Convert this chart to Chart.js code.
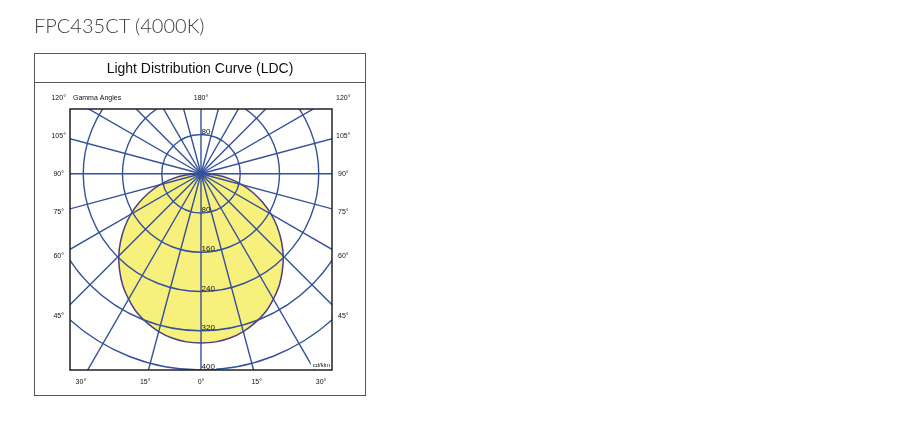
<!DOCTYPE html>
<html>
<head>
<meta charset="utf-8">
<title>FPC435CT LDC</title>
<script src="https://cdn.jsdelivr.net/npm/chart.js@4.4.0/dist/chart.umd.min.js"></script>
<style>
    body { margin: 0; background: #fff; }
    #wrap { position: relative; width: 900px; height: 425px; }
    #ldcChart { position: absolute; left: 0; top: 0; }
    .product { position: absolute; left: 34px; top: 13px; font: 300 20px Lato, sans-serif; color: #3d3d3d; white-space: nowrap; }
    .box { position: absolute; left: 34px; top: 53px; width: 330px; height: 341px; border: 1px solid #555; pointer-events: none; }
    .box-title { height: 28px; border-bottom: 1px solid #555; text-align: center; font: 14px "Liberation Sans", Arial, sans-serif; line-height: 29px; color: #111; }
</style>
</head>
<body>
<div id="wrap">
    <canvas id="ldcChart" width="900" height="425"></canvas>
    <div class="product">FPC435CT (4000K)</div>
    <div class="box"><div class="box-title">Light Distribution Curve (LDC)</div></div>
</div>

<script>
// gamma angle (deg from nadir) and luminous intensity (cd/klm), same on both sides
const gammaAngles = [0, 5, 10, 15, 20, 25, 30, 35, 40, 45, 50, 55, 60, 65, 70, 75, 80, 85, 90];
const intensity = [345, 344, 340, 333, 323, 311, 295, 278, 258, 237, 214, 190, 165, 139, 113, 87, 60, 31, 0];

const ringValues = [80, 160, 240, 320, 400, 480];
const ringLabels = ['80', '160', '240', '320', '400'];
const spokeStep = 15;

const sideAngles = [45, 60, 75, 90, 105];
const sideLabels = ['45°', '60°', '75°', '90°', '105°'];
const bottomAngles = [-30, -15, 0, 15, 30];
const bottomLabels = ['30°', '15°', '0°', '15°', '30°'];
const topLabels = ['120°', '180°', '120°'];
const axisTitle = 'Gamma Angles';
const unitLabel = 'cd/klm';

const rad = d => d * Math.PI / 180;

// build the polar curve as x/y values (nadir points down)
const curvePoints = [];
for (let i = gammaAngles.length - 1; i >= 0; i--) {
    const a = rad(gammaAngles[i]);
    curvePoints.push({ x: -intensity[i] * Math.sin(a), y: -intensity[i] * Math.cos(a) });
}
for (let i = 1; i < gammaAngles.length; i++) {
    const a = rad(gammaAngles[i]);
    curvePoints.push({ x: intensity[i] * Math.sin(a), y: -intensity[i] * Math.cos(a) });
}

const gridColor = '#34519b';
const smallFont = '7px "Liberation Sans", Arial, sans-serif';

const polarGrid = {
    id: 'polarGrid',
    afterDatasetsDraw(chart) {
        const ctx = chart.ctx;
        const area = chart.chartArea;
        const xs = chart.scales.x, ys = chart.scales.y;
        const cx = xs.getPixelForValue(0), cy = ys.getPixelForValue(0);
        const k = xs.getPixelForValue(1) - cx;

        ctx.save();
        ctx.beginPath();
        ctx.rect(area.left, area.top, area.right - area.left, area.bottom - area.top);
        ctx.clip();
        ctx.strokeStyle = gridColor;
        ctx.lineWidth = 1.4;
        ringValues.forEach(r => {
            ctx.beginPath();
            ctx.arc(cx, cy, r * k, 0, Math.PI * 2);
            ctx.stroke();
        });
        for (let a = 0; a < 360; a += spokeStep) {
            ctx.beginPath();
            ctx.moveTo(cx, cy);
            ctx.lineTo(cx + Math.sin(rad(a)) * 700 * k, cy + Math.cos(rad(a)) * 700 * k);
            ctx.stroke();
        }
        ctx.restore();

        // frame
        ctx.save();
        ctx.strokeStyle = '#222';
        ctx.lineWidth = 1.5;
        ctx.strokeRect(area.left, area.top, area.right - area.left, area.bottom - area.top);

        // ring values along the vertical
        ctx.font = '8px "Liberation Sans", Arial, sans-serif';
        ctx.fillStyle = '#111';
        ctx.textAlign = 'left';
        ctx.textBaseline = 'bottom';
        ctx.fillText(ringLabels[0], cx + 0.5, ys.getPixelForValue(ringValues[0]) + 1);
        ringLabels.forEach((t, i) => {
            const py = ys.getPixelForValue(-ringValues[i]);
            if (i === ringLabels.length - 1) {
                ctx.fillStyle = '#fff';
                ctx.fillRect(cx + 1, py - 8, ctx.measureText(t).width + 1, 7);
                ctx.fillStyle = '#111';
            }
            ctx.fillText(t, cx + 0.5, py + 1);
        });

        // unit tag in the corner
        ctx.font = '6px "Liberation Sans", Arial, sans-serif';
        const uw = ctx.measureText(unitLabel).width;
        ctx.fillStyle = '#fff';
        ctx.fillRect(area.right - uw - 4, area.bottom - 9, uw + 3, 8);
        ctx.fillStyle = '#111';
        ctx.textAlign = 'right';
        ctx.textBaseline = 'middle';
        ctx.fillText(unitLabel, area.right - 2, area.bottom - 4.5);

        // gamma angle labels
        ctx.font = smallFont;
        ctx.textAlign = 'center';
        ctx.textBaseline = 'middle';
        const sideX = 290;
        sideAngles.forEach((a, i) => {
            const py = ys.getPixelForValue(-sideX / Math.tan(rad(a)));
            ctx.fillText(sideLabels[i], xs.getPixelForValue(-sideX), py);
            ctx.fillText(sideLabels[i], xs.getPixelForValue(sideX), py);
        });
        const bottomY = -424;
        bottomAngles.forEach((a, i) => {
            ctx.fillText(bottomLabels[i], xs.getPixelForValue(-bottomY * Math.tan(rad(a))), ys.getPixelForValue(bottomY));
        });
        const topY = ys.getPixelForValue(155);
        ctx.fillText(topLabels[0], xs.getPixelForValue(-sideX), topY);
        ctx.fillText(topLabels[1], cx, topY);
        ctx.fillText(topLabels[2], xs.getPixelForValue(sideX), topY);
        ctx.textAlign = 'left';
        ctx.fillText(axisTitle, xs.getPixelForValue(-261), topY);
        ctx.restore();
    }
};

new Chart(document.getElementById('ldcChart').getContext('2d'), {
    type: 'scatter',
    data: {
        datasets: [{
            data: curvePoints,
            showLine: true,
            fill: 'shape',
            backgroundColor: '#f8f07c',
            borderColor: '#4b3f7e',
            borderWidth: 1.5,
            pointRadius: 0,
            tension: 0.35
        }]
    },
    options: {
        responsive: false,
        animation: false,
        layout: { padding: { left: 70, right: 568, top: 109, bottom: 55 } },
        plugins: { legend: { display: false }, tooltip: { enabled: false } },
        scales: {
            x: { type: 'linear', min: -267, max: 267, display: false },
            y: { type: 'linear', min: -400, max: 132, display: false }
        }
    },
    plugins: [polarGrid]
});
</script>
</body>
</html>
